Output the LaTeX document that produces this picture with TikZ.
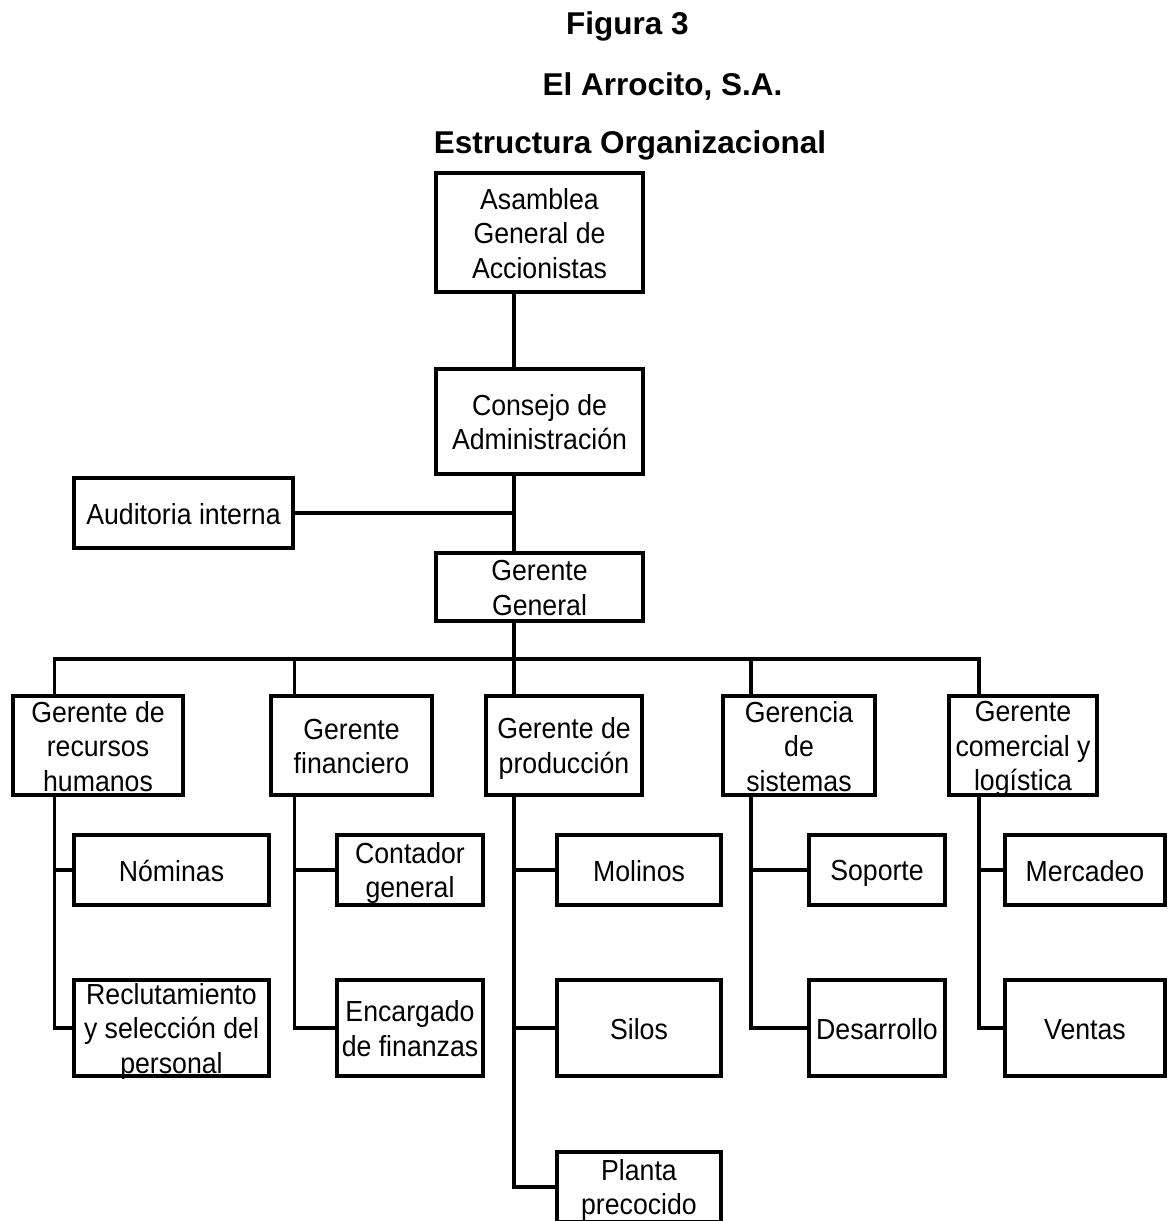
\documentclass[tikz,border=0pt]{standalone}
\usepackage{fontspec}
\setmainfont{Liberation Sans}[FakeStretch=0.92]
\newfontfamily\titfont{Liberation Sans}
\usepackage{tikz}
\usetikzlibrary{calc}
\newcommand{\sos}{\rule[-5pt]{0pt}{32pt}}

\begin{document}
\begin{tikzpicture}[x=1pt,y=-1pt,
caja/.style={draw,line width=3.8pt,align=center,inner xsep=0pt,inner ysep=-3pt,font=\fontsize{29}{34.5}\selectfont},
jefe/.style={caja,minimum height=99},
hijo/.style={caja,minimum height=70},
titulo/.style={anchor=base,font=\titfont\bfseries\fontsize{31.5}{36}\selectfont},
linea/.style={line width=3.8pt,line cap=rect}]
\useasboundingbox (0,0) rectangle (1168,1221);
\clip (0,0) rectangle (1168,1221);
\fill[white] (0,0) rectangle (1168,1221);

\node[titulo] (fig) at (627.5,34) {Figura 3};
\node[titulo] (emp) at (662.5,95) {El Arrocito, S.A.};
\node[titulo] (est) at (630,153) {Estructura Organizacional};

\node[caja,minimum width=207,minimum height=119] (asam) at (539.5,232.5) {\sos Asamblea\\General de\\Accionistas\sos};
\node[caja,minimum width=207,minimum height=105] (cons) at (539.5,421.5) {\sos Consejo de\\Administración\sos};
\node[caja,minimum width=219,minimum height=70] (audi) at (183.5,513) {\sos Auditoria interna\sos};
\node[caja,minimum width=207,minimum height=68] (gg) at (539.5,587) {\sos Gerente\\General\sos};

\node[jefe,minimum width=170] (rh) at (98,745.5) {\sos Gerente de\\recursos\\humanos\sos};
\node[jefe,minimum width=161] (fin) at (351.5,745.5) {\sos Gerente\\financiero\sos};
\node[jefe,minimum width=156] (prod) at (564,745.5) {\sos Gerente de\\producción\sos};
\node[jefe,minimum width=152] (sis) at (799,745.5) {\sos Gerencia\\de\\sistemas\sos};
\node[jefe,minimum width=148] (com) at (1023,745.5) {\sos Gerente\\comercial y\\logística\sos};

\node[hijo,minimum width=195] (nom) at (171.5,870) {\sos Nóminas\sos};
\node[hijo,minimum width=195,minimum height=96] (rec) at (171.5,1028) {\sos Reclutamiento\\y selección del\\personal\sos};
\node[hijo,minimum width=146] (cont) at (410,870) {\sos Contador\\general\sos};
\node[hijo,minimum width=146,minimum height=96] (enc) at (410,1028) {\sos Encargado\\de finanzas\sos};
\node[hijo,minimum width=164] (mol) at (639,870) {\sos Molinos\sos};
\node[hijo,minimum width=164,minimum height=96] (sil) at (639,1028) {\sos Silos\sos};
\node[hijo,minimum width=164] (plan) at (639,1187) {\sos Planta\\precocido\sos};
\node[hijo,minimum width=136] (sop) at (877,870) {\sos Soporte\sos};
\node[hijo,minimum width=136,minimum height=96] (des) at (877,1028) {\sos Desarrollo\sos};
\node[hijo,minimum width=160] (mer) at (1085,870) {\sos Mercadeo\sos};
\node[hijo,minimum width=160,minimum height=96] (ven) at (1085,1028) {\sos Ventas\sos};

\coordinate (bus) at (514,659);
\coordinate (trh) at (54.5,659);
\coordinate (tfin) at (294.5,659);
\coordinate (tsis) at (751,659);
\coordinate (tcom) at (979,659);

\draw[linea] (asam.south -| bus) -- (cons.north -| bus);
\draw[linea] (cons.south -| bus) -- (gg.north -| bus);
\draw[linea] (audi.east) -- (audi.east -| bus);
\draw[linea] (gg.south -| bus) -- (bus);
\draw[linea] (trh |- rh.north) -- (trh) -- (tcom) -- (tcom |- com.north);
\draw[linea] (tfin) -- (tfin |- fin.north);
\draw[linea] (bus) -- (bus |- prod.north);
\draw[linea] (tsis) -- (tsis |- sis.north);

\draw[linea] (trh |- rh.south) |- (rec.west);
\draw[linea] (trh |- nom.west) -- (nom.west);
\draw[linea] (tfin |- fin.south) |- (enc.west);
\draw[linea] (tfin |- cont.west) -- (cont.west);
\draw[linea] (bus |- prod.south) |- (plan.west);
\draw[linea] (bus |- mol.west) -- (mol.west);
\draw[linea] (bus |- sil.west) -- (sil.west);
\draw[linea] (tsis |- sis.south) |- (des.west);
\draw[linea] (tsis |- sop.west) -- (sop.west);
\draw[linea] (tcom |- com.south) |- (ven.west);
\draw[linea] (tcom |- mer.west) -- (mer.west);
\end{tikzpicture}
\end{document}
